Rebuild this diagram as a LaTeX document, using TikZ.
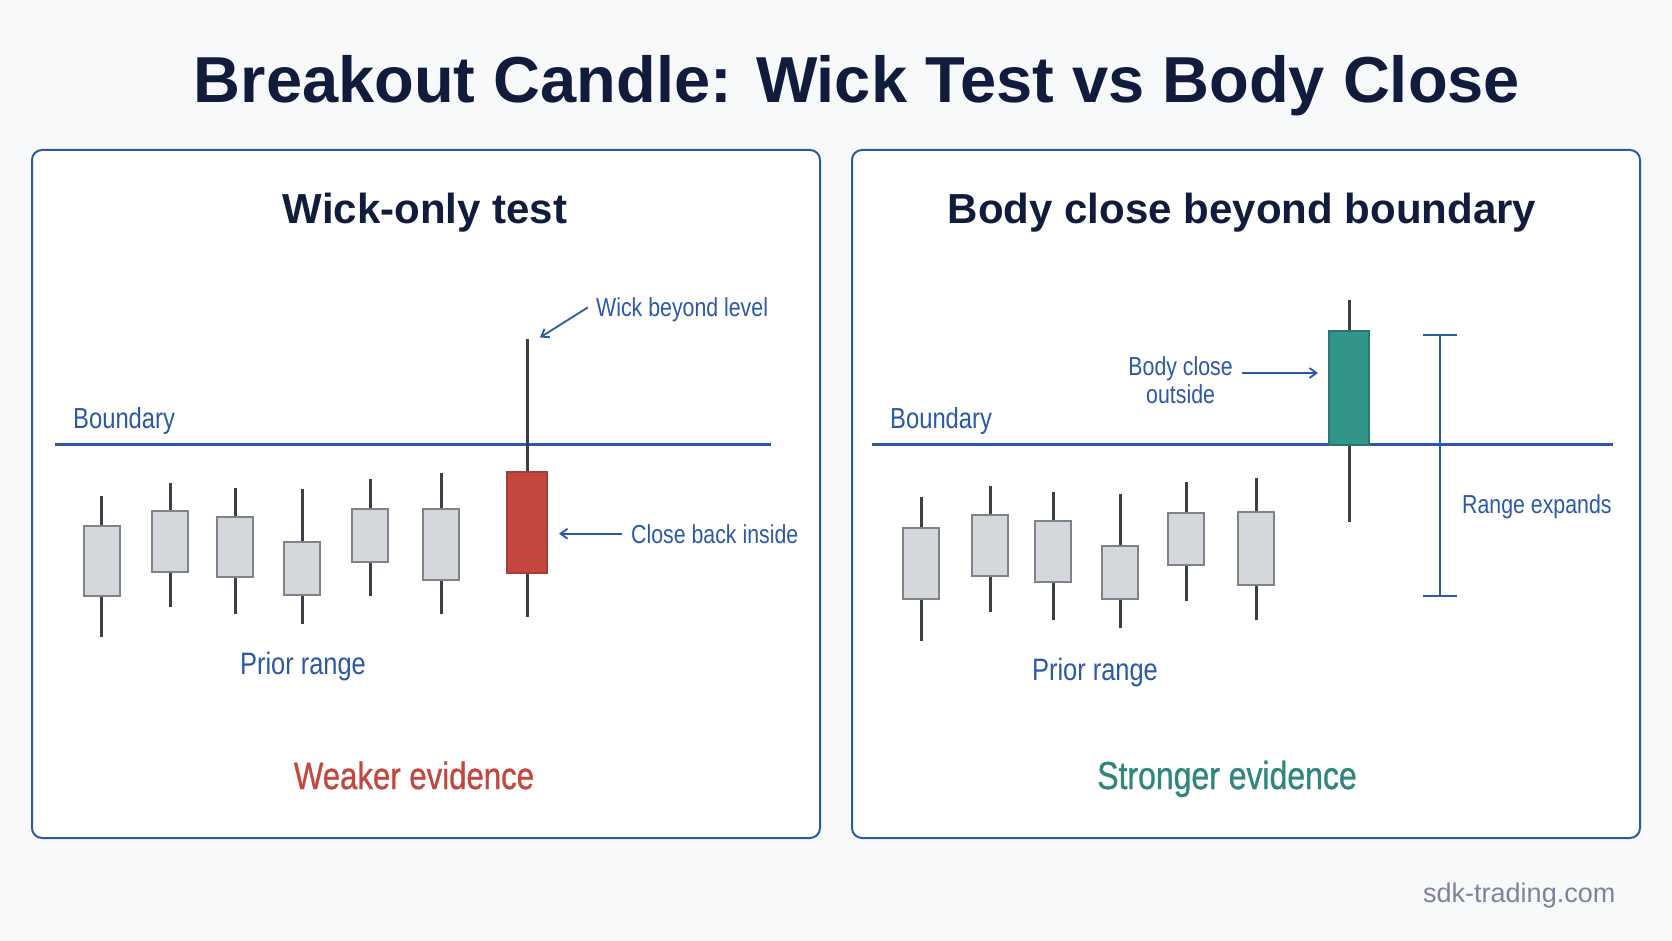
\documentclass[tikz,border=0pt]{standalone}
\usepackage{fontspec}
\setmainfont{Liberation Sans}
\newfontfamily\lblfont[FakeStretch=0.82]{Liberation Sans}
\newfontfamily\verdictfont[FakeStretch=0.82,FakeBold=0.8]{Liberation Sans}
\usepackage{xcolor}
\usetikzlibrary{positioning,arrows.meta,calc}

\definecolor{navy}{HTML}{111C3D}
\definecolor{lineblue}{HTML}{2C58A8}
\definecolor{candlegray}{HTML}{D4D7DB}
\definecolor{candleedge}{HTML}{7E8389}
\definecolor{wickgray}{HTML}{3B4047}
\definecolor{bearred}{HTML}{C3463F}
\definecolor{bullteal}{HTML}{33958A}
\definecolor{webgray}{HTML}{7A8599}
\definecolor{pagebg}{HTML}{F8F9FB}

\tikzset{
  panel/.style={draw=lineblue, line width=2pt, rounded corners=10pt, fill=white},
  paneltitle/.style={font=\bfseries\fontsize{42}{50}\selectfont, text=navy, anchor=base, inner sep=0pt},
  lbl/.style={font=\lblfont\fontsize{26}{27.5}\selectfont, text=lineblue, inner sep=0pt},
  verdict/.style={font=\verdictfont\fontsize{38}{40}\selectfont, anchor=base, inner sep=0pt},
  wick/.style={draw=wickgray, line width=3pt},
  body/.style={draw=candleedge, line width=2pt, fill=candlegray},
  level/.style={draw=lineblue, line width=2.6pt},
  callout/.style={draw=lineblue, line width=1.8pt, -{Straight Barb[length=7pt,width=10pt]}},
}

\begin{document}
\begin{tikzpicture}[x=1pt,y=-1pt]
    \useasboundingbox (0,0) rectangle (1672,941);
    \fill[pagebg] (0,0) rectangle (1672,941);

    % heading
    \node[font=\bfseries\fontsize{65}{78}\selectfont, text=navy, anchor=base, inner sep=0pt] (title) at (857,103) {Breakout Candle: Wick Test vs Body Close};

    % panels
    \draw[panel] (32,150) rectangle (820,838);
    \draw[panel] (852,150) rectangle (1640,838);
    \node[paneltitle] (wtitle) at (425,224) {Wick-only test};
    \node[paneltitle] (btitle) at (1242,224) {Body close beyond boundary};

    % left panel
    \draw[level] (55,444.5) -- (771,444.5);
    \node[lbl, font=\lblfont\fontsize{29}{30}\selectfont, anchor=base west] (lbound) at (73,428) {Boundary};
    \foreach \cx/\bt/\bb/\wt/\wb in {101.5/526/596/496/637, 170/511/572/483/607, 235/517/577/488/614,
                                     302/542/595/489/624, 370/509/562/479/596, 441/509/580/473/614} {
        \draw[wick] (\cx,\wt) -- (\cx,\wb);
        \draw[body] (\cx-18,\bt) rectangle (\cx+18,\bb);
    }
    \draw[wick] (527,339) -- (527,617);
    \draw[body, draw=bearred!85!black, fill=bearred] (507,472) rectangle (547,573);

    \node[lbl, anchor=base west] (wlbl) at (596,316) {Wick beyond level};
    \coordinate (wicktip) at (540,337.5);
    \draw[callout] ([xshift=-8pt,yshift=2pt]wlbl.west) -- (wicktip);

    \node[lbl, anchor=base west] (clbl) at (631,543) {Close back inside};
    \coordinate (closetip) at (559,535);
    \draw[callout] ([xshift=-9pt]clbl.west) -- (clbl.west -| closetip);

    \node[lbl, font=\lblfont\fontsize{31}{32}\selectfont, anchor=base] (lprior) at (303,674) {Prior range};
    \node[verdict, text=bearred] (weak) at (414,789) {Weaker evidence};

    % right panel
    \draw[level] (872,444.5) -- (1613,444.5);
    \node[lbl, font=\lblfont\fontsize{29}{30}\selectfont, anchor=base west] (rbound) at (890,428) {Boundary};
    \foreach \cx/\bt/\bb/\wt/\wb in {921/528/599/497/641, 990/515/576/486/612, 1053/521/582/492/620,
                                     1120/546/599/494/628, 1186/513/565/482/601, 1256/512/585/478/620} {
        \draw[wick] (\cx,\wt) -- (\cx,\wb);
        \draw[body] (\cx-18,\bt) rectangle (\cx+18,\bb);
    }
    \draw[wick] (1349,300) -- (1349,522);
    \draw[body, draw=bullteal!80!black, fill=bullteal] (1329,331) rectangle (1369,444.5);

    \node[lbl, align=center, anchor=base] (bclbl) at (1180.6,403) {Body close\\outside};
    \coordinate (bcfrom) at (1242,373);
    \coordinate (bctip) at (1318,373);
    \draw[callout] (bcfrom) -- (bctip);

    % range bar
    \coordinate (rtop) at (1440,335);
    \coordinate (rbot) at (1440,596);
    \draw[draw=lineblue, line width=2.5pt] (rtop) -- (rbot)
        ([xshift=-17pt]rtop) -- ([xshift=17pt]rtop)
        ([xshift=-17pt]rbot) -- ([xshift=17pt]rbot);
    \node[lbl, anchor=base west] (rexp) at (1462,513) {Range expands};

    \node[lbl, font=\lblfont\fontsize{31}{32}\selectfont, anchor=base] (rprior) at (1095,680) {Prior range};
    \node[verdict, text=bullteal!90!black, font=\verdictfont\fontsize{39}{40}\selectfont] (strong) at (1227,789) {Stronger evidence};

    % footer
    \node[font=\fontsize{27}{30}\selectfont, text=webgray, anchor=base west, inner sep=0pt] (site) at (1423,902) {sdk-trading.com};
\end{tikzpicture}
\end{document}
